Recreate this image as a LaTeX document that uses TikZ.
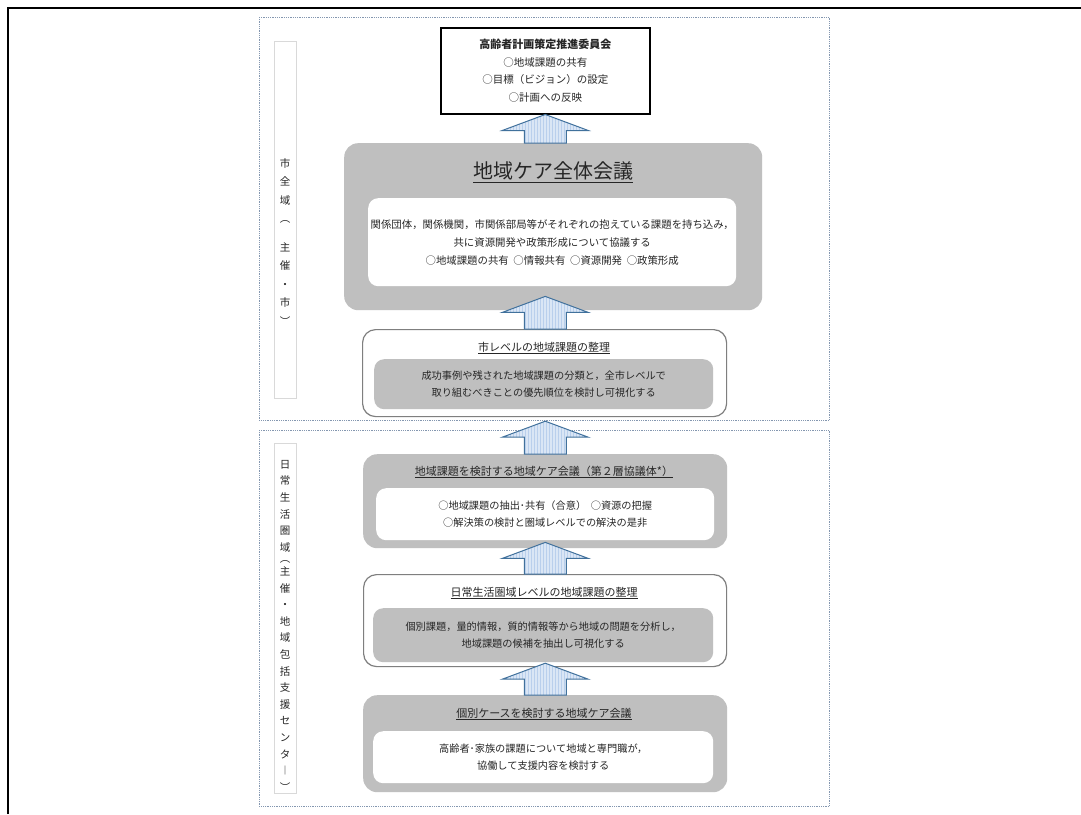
\documentclass[tikz,border=0pt]{standalone}
\usepackage{fontspec}
\setmainfont{Noto Sans CJK JP}
\usetikzlibrary{calc,patterns}
\definecolor{boxgray}{HTML}{BFBFBF}
\definecolor{edgegray}{HTML}{7F7F7F}
\definecolor{dotblue}{HTML}{8497B0}
\definecolor{labelgray}{HTML}{D9D9D9}
\definecolor{arrowfill}{HTML}{DAE6F5}
\definecolor{arrowline}{HTML}{41719C}
\definecolor{arrowstripe}{HTML}{B9CFEC}
\definecolor{txt}{HTML}{262626}
\newcommand{\blockup}[2]{%
  \path[blockarrow] let \p1=#1, \p2=#2 in
    ({\x1-21pt},\y1) -- ({\x1-21pt},{\y2-16pt}) -- ({\x1-43pt},{\y2-16pt}) --
    (\x2,\y2) -- ({\x1+43pt},{\y2-16pt}) -- ({\x1+21pt},{\y2-16pt}) --
    ({\x1+21pt},\y1) -- cycle;}
\begin{document}
\begin{tikzpicture}[x=1pt,y=-1pt,
  region/.style={draw=dotblue, densely dotted, line width=0.8pt, anchor=north west, inner sep=0pt},
  labelbox/.style={draw=labelgray, line width=1pt, anchor=north west, inner sep=0pt},
  vtext/.style={align=center, inner sep=0pt, text=txt, anchor=north},
  topbox/.style={draw=black, line width=1.5pt, fill=white, anchor=north west, inner sep=0pt, align=center, text=txt, font=\fontsize{10.5}{17.7}\selectfont},
  graybox/.style={fill=boxgray, rounded corners=14pt, anchor=north west, inner sep=0pt},
  whitebox/.style={fill=white, draw=edgegray, line width=1.2pt, rounded corners=13pt, anchor=north west, inner sep=0pt},
  innerwhite/.style={fill=white, rounded corners=10pt, anchor=north west, inner sep=0pt, align=center, text=txt, font=\fontsize{10.2}{17.5}\selectfont},
  innergray/.style={fill=boxgray, rounded corners=10pt, anchor=north west, inner sep=0pt, align=center, text=txt, font=\fontsize{10.2}{17.5}\selectfont},
  boxtitle/.style={inner sep=0pt, text=txt, font=\fontsize{11}{13}\selectfont},
  blockarrow/.style={draw=arrowline, line width=1pt, preaction={fill=arrowfill}, pattern=vertical lines, pattern color=arrowstripe}
]
\useasboundingbox (0,0) rectangle (1081,814);
\fill[white] (0,0) rectangle (1081,814);
\draw[line width=2.2pt] (8,814) -- (8,8) -- (1081,8);

% regions
\node[region, minimum width=570pt, minimum height=403pt] (regA) at (259,17) {};
\node[region, minimum width=570pt, minimum height=376pt] (regB) at (259,430) {};

% side labels
\node[labelbox, minimum width=22pt, minimum height=357pt] (labA) at (274,41) {};
\node[vtext, font=\fontsize{10.5}{18.5}\selectfont] (labAt) at (285,158) {市\\全\\域\\︵\\[10pt]主\\催\\・\\市\\︶};
\node[labelbox, minimum width=22pt, minimum height=350pt] (labB) at (274,443) {};
\node[vtext, font=\fontsize{10.5}{16.6}\selectfont] (labBt) at (285,460) {日\\常\\生\\活\\圏\\域\\[-5pt]︵\\[-4pt]主\\催\\・\\地\\域\\包\\括\\支\\援\\セ\\ン\\タ\\︱\\︶};

% top committee box
\node[topbox, minimum width=209pt, minimum height=86pt] (top) at (440,27)
  {{\bfseries\fontsize{11}{17.7}\selectfont 高齢者計画策定推進委員会}\\○地域課題の共有\\○目標（ビジョン）の設定\\○計画への反映};

% big all-area meeting
\node[graybox, minimum width=418pt, minimum height=167pt] (all) at (344,143) {};
\node[inner sep=0pt, text=txt, font=\fontsize{20}{24}\selectfont] (allT) at (553,172) {\underline{地域ケア全体会議}};
\node[innerwhite, minimum width=368pt, minimum height=88pt, font=\fontsize{10.4}{18}\selectfont] (allIn) at (368,198)
  {関係団体，関係機関，市関係部局等がそれぞれの抱えている課題を持ち込み，\\共に資源開発や政策形成について協議する\\○地域課題の共有\ \ ○情報共有\ \ ○資源開発\ \ ○政策形成};

% city level
\node[whitebox, minimum width=364pt, minimum height=87pt] (city) at (362,329) {};
\node[boxtitle] (cityT) at (544,348) {\underline{市レベルの地域課題の整理}};
\node[innergray, minimum width=339pt, minimum height=50pt] (cityIn) at (374,359)
  {成功事例や残された地域課題の分類と，全市レベルで\\取り組むべきことの優先順位を検討し可視化する};

% second layer meeting
\node[graybox, minimum width=364pt, minimum height=94pt] (dai) at (363,454) {};
\node[boxtitle] (daiT) at (544,472) {\underline{地域課題を検討する地域ケア会議（第２層協議体*）}};
\node[innerwhite, minimum width=338pt, minimum height=52pt] (daiIn) at (376,488)
  {○地域課題の抽出･共有（合意）\ \ ○資源の把握\\○解決策の検討と圏域レベルでの解決の是非};

% daily-life area level
\node[whitebox, minimum width=363pt, minimum height=92pt] (nichi) at (363,574) {};
\node[boxtitle] (nichiT) at (544,593) {\underline{日常生活圏域レベルの地域課題の整理}};
\node[innergray, minimum width=340pt, minimum height=54pt] (nichiIn) at (373,608)
  {個別課題，量的情報，質的情報等から地域の問題を分析し，\\地域課題の候補を抽出し可視化する};

% individual case meeting
\node[graybox, minimum width=364pt, minimum height=97pt] (kobe) at (363,695) {};
\node[boxtitle] (kobeT) at (544,714) {\underline{個別ケースを検討する地域ケア会議}};
\node[innerwhite, minimum width=340pt, minimum height=52pt] (kobeIn) at (373,731)
  {高齢者･家族の課題について地域と専門職が，\\協働して支援内容を検討する};

% block arrows
\blockup{(top.south |- all.north)}{(top.south)}
\blockup{(top.south |- city.north)}{($(top.south |- all.south)+(0,-14)$)}
\blockup{(top.south |- dai.north)}{($(top.south |- city.south)+(0,4)$)}
\blockup{(top.south |- nichi.north)}{($(top.south |- dai.south)+(0,-6)$)}
\blockup{(top.south |- kobe.north)}{($(top.south |- nichi.south)+(0,-4)$)}
\end{tikzpicture}
\end{document}
